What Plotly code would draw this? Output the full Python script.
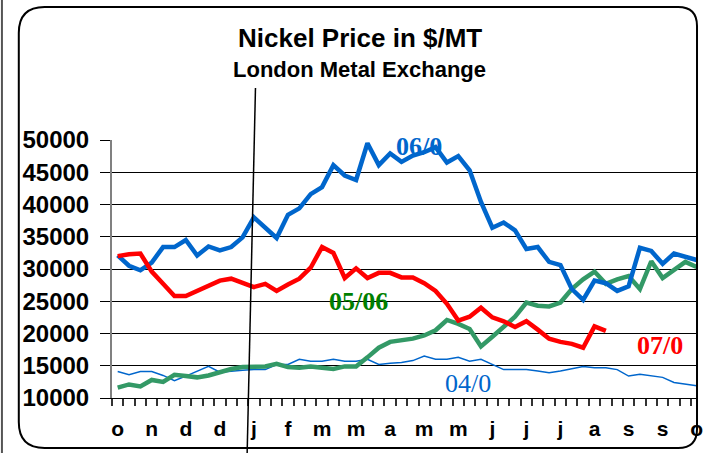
import plotly.graph_objects as go

# ---------------- data ----------------
week_labels = ["o", "n", "d", "d", "j", "f", "m", "m", "a", "m", "m", "j",
               "j", "j", "a", "s", "s", "o"]

nickel_0607 = [32100, 30500, 29800, 31000, 33400, 33400, 34500, 32100, 33500, 32900,
               33400, 34900, 38000, 36300, 34800, 38400, 39400, 41600, 42700, 46100,
               44500, 43800, 49500, 46100, 47900, 46600, 47600, 48100, 48900, 46500,
               47500, 45300, 40400, 36400, 37200, 36000, 33100, 33400, 31100, 30600,
               26900, 25200, 28200, 27800, 26600, 27300, 33300, 32800, 30800, 32400,
               31900, 31400]

nickel_0708 = [32000, 32300, 32400, 29600, 27700, 25800, 25800, 26600, 27300, 28200,
               28500, 27900, 27200, 27700, 26600, 27600, 28500, 30200, 33400, 32500,
               28600, 30100, 28600, 29400, 29400, 28700, 28700, 27800, 26600, 24600,
               22000, 22600, 24000, 22500, 21900, 21000, 21900, 20600, 19200, 18700,
               18400, 17800, 21100, 20400]

nickel_0506 = [11600, 12100, 11800, 12800, 12500, 13600, 13400, 13200, 13500, 14000,
               14500, 14800, 14900, 14900, 15300, 14800, 14700, 14900, 14700, 14500,
               14900, 14900, 16300, 17800, 18700, 18900, 19200, 19700, 20500, 22100,
               21500, 20700, 18000, 19500, 21000, 22600, 24800, 24300, 24200, 24800,
               26900, 28400, 29600, 27700, 28400, 28900, 26900, 31200, 28600, 29900,
               31100, 30300]

nickel_0405 = [14100, 13600, 14100, 14100, 13500, 12700, 13400, 14200, 14900, 14000,
               14200, 14300, 14400, 14400, 15200, 15200, 16000, 15700, 15700, 16000,
               15700, 15700, 16000, 15200, 15400, 15500, 15800, 16500, 16000, 16000,
               16300, 15700, 16000, 15200, 14400, 14400, 14400, 14200, 13900, 14200,
               14500, 14900, 14700, 14700, 14400, 13400, 13700, 13400, 13200, 12400,
               12100, 11900]

y_ticks = [10000, 15000, 20000, 25000, 30000, 35000, 40000, 45000, 50000]

weeks = list(range(len(nickel_0607)))

# ---------------- figure ----------------
W, H = 703, 453
ML, MR, MT, MB = 112, 0, 140, 55
PW, PH = W - ML - MR, H - MT - MB


def px(xp):
    return (xp - ML) / PW


def py(yp):
    return (H - MB - yp) / PH


BLUE = "#0066CC"
RED = "#FF0000"
GREEN = "#339966"

fig = go.Figure()
fig.add_trace(go.Scatter(x=weeks, y=nickel_0405, mode="lines",
                         line=dict(color=BLUE, width=1.5), name="04/05"))
fig.add_trace(go.Scatter(x=weeks, y=nickel_0506, mode="lines",
                         line=dict(color=GREEN, width=4.5), name="05/06"))
fig.add_trace(go.Scatter(x=weeks, y=nickel_0607, mode="lines",
                         line=dict(color=BLUE, width=4.5), name="06/07"))
fig.add_trace(go.Scatter(x=weeks[:len(nickel_0708)], y=nickel_0708, mode="lines",
                         line=dict(color=RED, width=4.5), name="07/08"))

label_tickvals = list(range(0, len(weeks), 3))

fig.update_layout(
    width=W, height=H,
    margin=dict(l=ML, r=MR, t=MT, b=MB),
    paper_bgcolor="white", plot_bgcolor="white",
    showlegend=False,
    xaxis=dict(
        range=[-0.5, -0.5 + PW / 11.45],
        tickmode="array", tickvals=label_tickvals, ticktext=week_labels,
        ticks="outside", ticklen=12, tickcolor="rgba(0,0,0,0)",
        ticklabeloverflow="allow",
        tickfont=dict(family="Liberation Sans", size=21, color="black", weight="bold"),
        showgrid=False, zeroline=False,
        showline=True, linecolor="black", linewidth=1,
        minor=dict(ticks="outside", ticklen=7, tickcolor="#333333", tickwidth=1.5,
                   tickmode="linear", tick0=-0.5, dtick=1, showgrid=False),
    ),
    yaxis=dict(
        range=[10000, 50000],
        tickmode="array", tickvals=y_ticks, ticktext=[str(v) for v in y_ticks],
        ticks="outside", ticklen=10, tickcolor="black", tickwidth=1,
        ticklabelstandoff=6,
        tickfont=dict(family="Liberation Sans", size=24, color="black", weight="bold"),
        showgrid=True, gridcolor="black", gridwidth=1,
        zeroline=False, showline=True, linecolor="#808080", linewidth=2,
    ),
)

# titles
fig.add_annotation(text="<b>Nickel Price in $/MT</b>", xref="paper", yref="paper",
                   x=px(362), y=py(38), showarrow=False, xanchor="center", yanchor="middle",
                   font=dict(family="Liberation Sans", size=26, color="black"))
fig.add_annotation(text="<b>London Metal Exchange</b>", xref="paper", yref="paper",
                   x=px(362), y=py(70), showarrow=False, xanchor="center", yanchor="middle",
                   font=dict(family="Liberation Sans", size=22, color="black"))

# series labels
SERIF = "Liberation Serif"
fig.add_annotation(text="<b>06/0</b>", x=26.5, y=49000, showarrow=False,
                   font=dict(family=SERIF, size=26, color=BLUE))
fig.add_annotation(text="<b>05/06</b>", x=21.2, y=24900, showarrow=False,
                   font=dict(family=SERIF, size=26, color="#008000"))
fig.add_annotation(text="<b>07/0</b>", x=47.8, y=18150, showarrow=False,
                   font=dict(family=SERIF, size=26, color=RED))
fig.add_annotation(text="04/0", x=30.9, y=12200, showarrow=False,
                   font=dict(family=SERIF, size=26, color=BLUE))

# frame: rounded rectangle
L, R, T, B = 18, 702, 7, 448
rl, rr = 26, 19
pts = [
    ("M", [(L + rl, T)]),
    ("L", [(R - rr, T)]),
    ("Q", [(R, T), (R, T + rr)]),
    ("L", [(R, B - rr)]),
    ("Q", [(R, B), (R - rr, B)]),
    ("L", [(L + rl, B)]),
    ("Q", [(L, B), (L, B - rl)]),
    ("L", [(L, T + rl)]),
    ("Q", [(L, T), (L + rl, T)]),
]
path = ""
for cmd, coords in pts:
    path += cmd + " " + " ".join(f"{px(a):.5f},{py(b):.5f}" for a, b in coords) + " "
path += "Z"
fig.add_shape(type="path", path=path, xref="paper", yref="paper",
              line=dict(color="black", width=2), layer="above")

# left edge line
fig.add_shape(type="line", xref="paper", yref="paper",
              x0=px(1), x1=px(1), y0=py(0), y1=py(H),
              line=dict(color="#555555", width=2))

# slanted marker line
fig.add_shape(type="line", xref="paper", yref="paper",
              x0=px(256.7), y0=py(88), x1=px(248.3), y1=py(453),
              line=dict(color="black", width=1.5))

fig.write_html("out.html", config={"displayModeBar": False},
               post_script="document.body.style.margin='0';document.body.style.overflow='hidden';")
